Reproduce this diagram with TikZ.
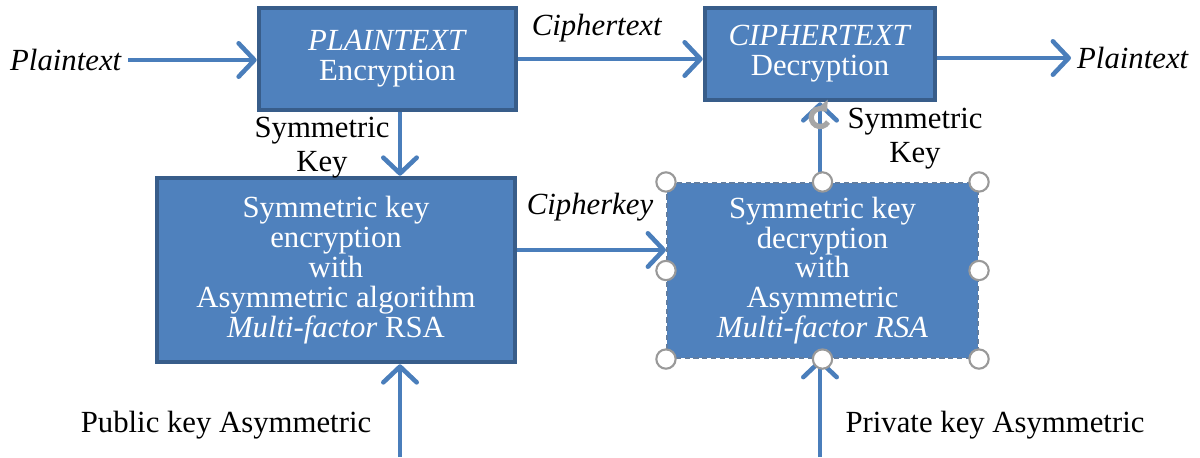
\documentclass[tikz,border=0pt]{standalone}
\usepackage{fontspec}
\setmainfont{Liberation Serif}
\usetikzlibrary{arrows.meta, positioning, calc}
\definecolor{boxfill}{HTML}{4F81BD}
\definecolor{boxline}{HTML}{385D8A}
\definecolor{flowline}{HTML}{4A7EBB}
\tikzset{
        flow/.style={draw=flowline, line width=2.6pt,
                     -{Straight Barb[length=9pt, width=19pt, line width=2.6pt, round]}}, % open arrow heads
        block/.style={draw=boxline, line width=2.6pt, fill=boxfill, text=white,
                      align=center, font=\fontsize{17.5}{17}\selectfont},
        lbl/.style={align=center, font=\fontsize{17.5}{19.5}\selectfont},
        handle/.style={circle, draw=gray!80, fill=white, line width=1.2pt,
                       inner sep=0pt, minimum size=11pt}
        }

\begin{document}
\begin{tikzpicture}[x=0.02cm, y=-0.02cm]
        \useasboundingbox (0,0) rectangle (1200,457);
        % the four boxes
        \node[block, minimum width=5.14cm, minimum height=2.04cm] (enc) at (387.5,59)
             {\textit{PLAINTEXT}\\Encryption};
        \node[block, minimum width=4.6cm, minimum height=1.84cm] (dec) at (820,54)
             {\textit{CIPHERTEXT}\\Decryption};
        \node[block, minimum width=7.16cm, minimum height=3.68cm] (skenc) at (336,270)
             {Symmetric key\\encryption\\with\\Asymmetric algorithm\\\textit{Multi-factor} RSA};
        \node[block, draw=boxline!80!white, densely dashed, line width=1.2pt,
              minimum width=6.22cm, minimum height=3.5cm] (skdec) at (822.5,270.5)
             {Symmetric key\\decryption\\with\\Asymmetric\\\textit{Multi-factor RSA}};
        % texts outside
        \node[lbl] (pin) at (66,60) {\textit{Plaintext}};
        \node[lbl] (pout) at (1133,58) {\textit{Plaintext}};
        \node[lbl] (ctext) at (597,28) {\textit{Ciphertext}};
        \node[lbl] (ckey) at (590,207) {\textit{Cipherkey}};
        \node[lbl] (skey1) at (322,148) {Symmetric\\Key};
        \node[lbl] (skey2) at (915,139) {Symmetric\\Key};
        \node[lbl] (pub) at (226,425) {Public key Asymmetric};
        \node[lbl] (priv) at (995,425) {Private key Asymmetric};
        \coordinate (pubin) at (400,457);
        \coordinate (privin) at (820,457);
        % connectors
        \draw[flow] (pin.east) -- (pin.east -| enc.west);
        \draw[flow] (enc.east) -- (enc.east -| dec.west);
        \draw[flow] (dec.east |- pout) -- (pout.west);
        \draw[flow] ([xshift=0.25cm]enc.south) -- ([xshift=0.25cm]enc.south |- skenc.north);
        \draw[flow] ([yshift=0.4cm]skenc.east) -- ([yshift=0.4cm]skenc.east -| skdec.west);
        \draw[flow] ([xshift=-0.05cm]skdec.north) -- ([xshift=-0.05cm]skdec.north |- dec.south);
        \draw[flow] (pubin) -- (pubin |- skenc.south);
        \draw[flow] (privin) -- (privin |- skdec.south);
        % selection handles
        \foreach \a in {north west, north, north east, west, east, south west, south, south east}
            \node[handle] at (skdec.\a) {};
        \draw[gray!70, line width=3pt, -{Triangle[length=5pt, width=9pt]}]
             (828,122) arc[start angle=30, end angle=320, radius=9];
\end{tikzpicture}
\end{document}
